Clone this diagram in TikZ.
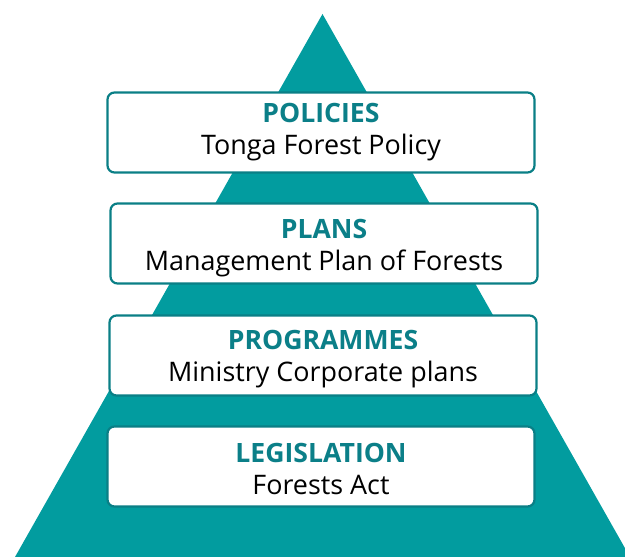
\documentclass[tikz,border=0pt]{standalone}
\usepackage{fontspec}
\setmainfont{Open Sans}
\usepackage{tikz}

\definecolor{pyramidfill}{HTML}{029C9F}
\definecolor{boxedge}{HTML}{0A7F86}
\definecolor{titleteal}{HTML}{0B7F88}

% title line of a level; the optional strut pushes the text down a little
\newcommand{\leveltitle}[2][0bp]{{\rule{0pt}{#1}\fontsize{26.7}{32}\selectfont\bfseries\color{titleteal}#2}}

\begin{document}
\begin{tikzpicture}[x=1bp, y=-1bp]

% Styles
\tikzset{
  level/.style={draw=boxedge, line width=2.2bp, fill=white, rounded corners=7bp,
    minimum width=427bp, minimum height=80bp, inner sep=0pt,
    align=center, font=\fontsize{27}{32}\selectfont}
}

\useasboundingbox (0,0) rectangle (625,557);

% Coordinates
\coordinate (apex) at (322.5,14);
\coordinate (baseL) at (15,557);
\coordinate (baseR) at (630,557);

% Pyramid
\begin{scope}
  \clip (0,0) rectangle (625,557);
  \fill[pyramidfill] (apex) -- (baseL) -- (baseR) -- cycle;
\end{scope}

% Levels
\node[level] (policies) at (321,132.5) {\leveltitle{POLICIES}\\Tonga Forest Policy};
\node[level] (plans) at (324,243.5) {\leveltitle[28bp]{PLANS}\\Management Plan of Forests};
\node[level] (programmes) at (323,355.5) {\leveltitle[27bp]{PROGRAMMES}\\Ministry Corporate plans};
\node[level] (legislation) at (321,466.5) {\leveltitle[25bp]{LEGISLATION}\\Forests Act};

\end{tikzpicture}
\end{document}
